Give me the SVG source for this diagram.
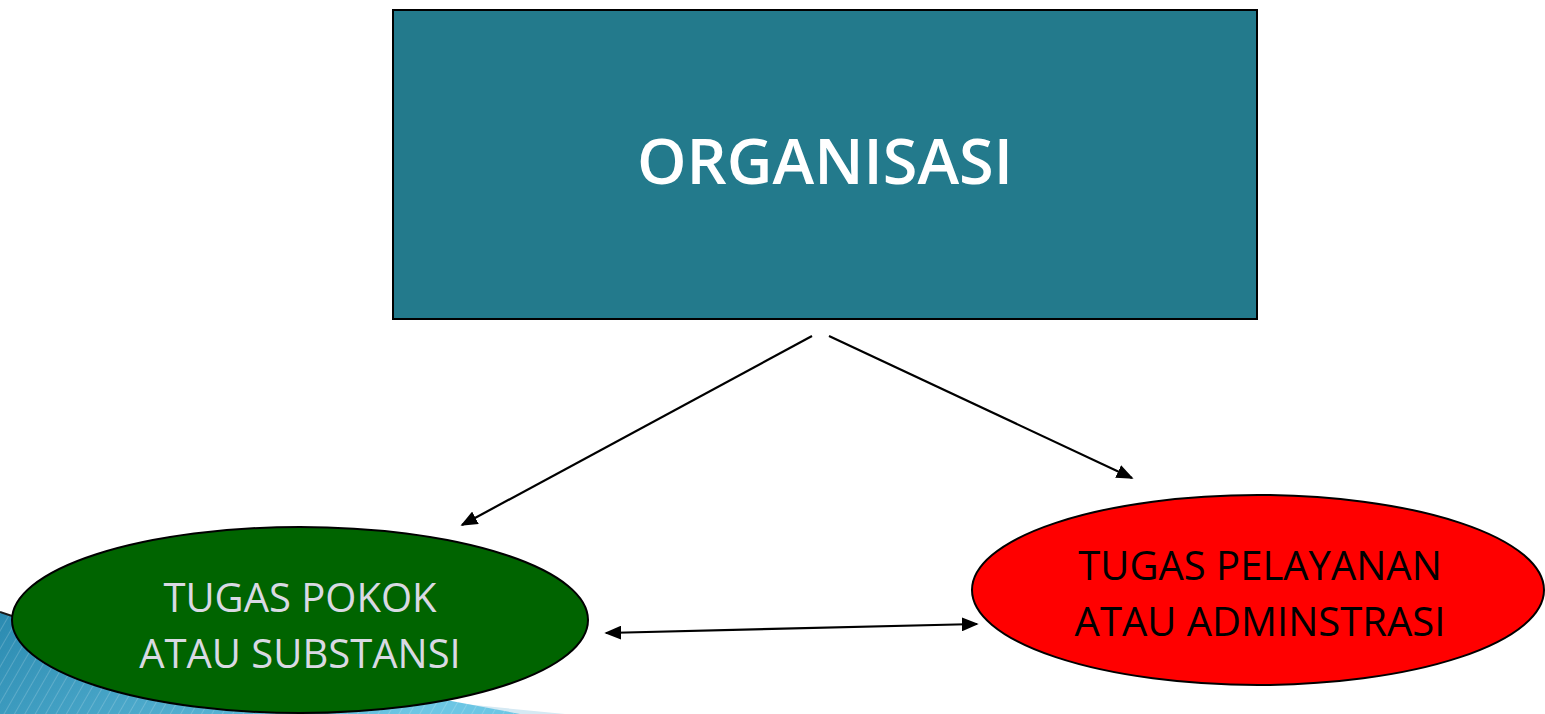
<svg xmlns="http://www.w3.org/2000/svg" width="1545" height="714" viewBox="0 0 1545 714">
<defs>
<style>
.lbl{font-family:"Open Sans","Liberation Sans",sans-serif;text-anchor:middle}
.edge{stroke:#000;stroke-width:2.2;fill:none}
</style>
<marker id="ah" viewBox="0 0 10 10" refX="9" refY="5" markerWidth="17" markerHeight="14" orient="auto-start-reverse" markerUnits="userSpaceOnUse" preserveAspectRatio="none">
<path d="M0,0 L10,5 L0,10 Z" fill="#000"/>
</marker>
<linearGradient id="bg" x1="0" y1="0" x2="1" y2="0.3">
<stop offset="0" stop-color="#2A8AB0"/>
<stop offset="1" stop-color="#6CC6E4"/>
</linearGradient>
<pattern id="st" width="9" height="9" patternUnits="userSpaceOnUse" patternTransform="rotate(30)">
<rect width="9" height="9" fill="none"/>
<line x1="0" y1="0" x2="0" y2="9" stroke="#ffffff" stroke-opacity="0.18" stroke-width="2"/>
</pattern>
</defs>
<rect width="1545" height="714" fill="#fff"/>
<g id="decor">
<path d="M300,688 L565,714 L300,714 Z" fill="#D5E9F3"/>
<path d="M0,612 L30,622 L520,714 L0,714 Z" fill="url(#bg)"/>
<path d="M0,612 L30,622 L520,714 L0,714 Z" fill="url(#st)"/>
<path d="M0,612 L30,622" stroke="#1a1a1a" stroke-width="2" fill="none"/>
</g>
<g id="organisasi">
<rect x="393" y="10" width="864" height="309" fill="#237A8C" stroke="#000" stroke-width="2"/>
<text class="lbl" x="825" y="184" font-size="63" font-weight="600" fill="#fff">ORGANISASI</text>
</g>
<g id="tugas-pokok">
<ellipse cx="300" cy="620" rx="288" ry="93" fill="#006400" stroke="#000" stroke-width="2"/>
<text class="lbl" x="300" y="612" font-size="40" fill="#D9D9E3">TUGAS POKOK</text>
<text class="lbl" x="300" y="668" font-size="40" fill="#D9D9E3">ATAU SUBSTANSI</text>
</g>
<g id="tugas-pelayanan">
<ellipse cx="1258" cy="590" rx="286" ry="95" fill="#FF0000" stroke="#000" stroke-width="2"/>
<text class="lbl" x="1260" y="580" font-size="40" fill="#000">TUGAS PELAYANAN</text>
<text class="lbl" x="1260" y="636" font-size="40" fill="#000">ATAU ADMINSTRASI</text>
</g>
<g id="connectors">
<line class="edge" x1="812" y1="336" x2="462" y2="525" marker-end="url(#ah)"/>
<line class="edge" x1="829" y1="336" x2="1132" y2="478" marker-end="url(#ah)"/>
<line class="edge" x1="606" y1="633" x2="977" y2="624" marker-start="url(#ah)" marker-end="url(#ah)"/>
</g>
</svg>
